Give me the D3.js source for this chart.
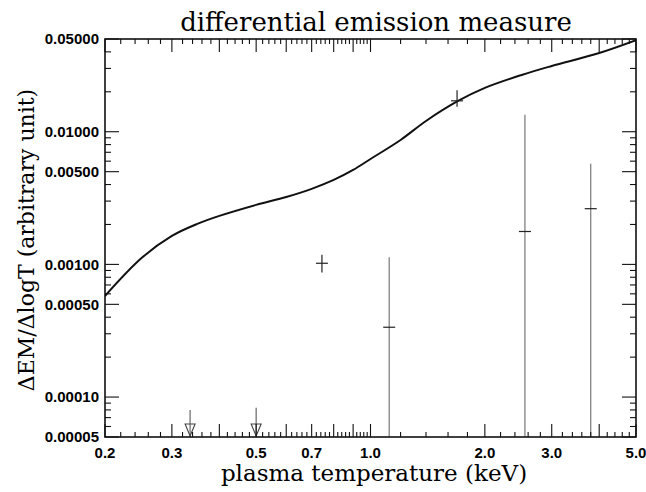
<!DOCTYPE html>
<html>
<head>
<meta charset="utf-8">
<script src="https://cdn.jsdelivr.net/npm/d3@7"></script>
<style>
  html, body { margin: 0; padding: 0; background: #fff; }
  svg { display: block; }
</style>
</head>
<body>
<svg id="chart" width="646" height="492"></svg>
<script>
// model curve (solid line)
const curveT   = [0.2, 0.25, 0.3, 0.35, 0.4, 0.5, 0.6, 0.7, 0.8, 0.9, 1.0, 1.2, 1.4, 1.7, 2.0, 2.5, 3.0, 4.0, 5.0];
const curveDem = [0.000578, 0.00112, 0.00164, 0.00202, 0.00232, 0.00281, 0.00322, 0.00371, 0.00433, 0.00515,
                  0.00623, 0.00867, 0.01205, 0.01705, 0.0214, 0.0268, 0.0313, 0.0392, 0.049];

// measured points with vertical error bars (null low = reaches the axis)
const ptT     = [0.745, 1.12, 1.69, 2.55, 3.8];
const ptDem   = [0.00102, 0.000336, 0.0171, 0.00177, 0.00263];
const ptErrLo = [0.00087, null, 0.0154, null, null];
const ptErrHi = [0.00118, 0.00113, 0.0205, 0.0134, 0.00574];

// upper limits (arrows)
const ulT   = [0.335, 0.5];
const ulDem = [0.00008, 0.000083];

// axis ticks
const xLabelTicks = [0.2, 0.3, 0.5, 0.7, 1.0, 2.0, 3.0, 5.0];
const xLabelText  = ['0.2', '0.3', '0.5', '0.7', '1.0', '2.0', '3.0', '5.0'];
const yLabelTicks = [0.05, 0.01, 0.005, 0.001, 0.0005, 0.0001, 0.00005];
const yLabelText  = ['0.05000', '0.01000', '0.00500', '0.00100', '0.00050', '0.00010', '0.00005'];

const margin = { top: 39, right: 10, bottom: 55, left: 105 };
const width = 646, height = 492;
const innerW = width - margin.left - margin.right;
const innerH = height - margin.top - margin.bottom;

const svg = d3.select('#chart');
const g = svg.append('g').attr('transform', `translate(${margin.left},${margin.top})`);

const x = d3.scaleLog().domain([0.2, 5.0]).range([0, innerW]);
const y = d3.scaleLog().domain([0.00005, 0.05]).range([innerH, 0]);

// tick sets: x minor every 0.02 below 1, every 0.2 above; medium at 0.1 / 1 steps
const xMed = [], xMin = [];
for (let i = 20; i <= 100; i += 2) {
    const v = i / 100;
    if (i % 10 === 0) xMed.push(v); else xMin.push(v);
}
for (let i = 12; i <= 50; i += 2) {
    const v = i / 10;
    if (i % 10 === 0) xMed.push(v); else xMin.push(v);
}
const yMaj = yLabelTicks.slice(), yMin = [];
[0.00001, 0.0001, 0.001, 0.01].forEach(dec => {
    for (let k = 2; k <= 9; k++) {
        const v = k * dec;
        if (v < 0.00005 || v > 0.05) continue;
        if (k === 5) continue;
        yMin.push(v);
    }
});

// clip for data
svg.append('defs').append('clipPath').attr('id', 'plotclip')
    .append('rect').attr('width', innerW).attr('height', innerH);

const plot = g.append('g').attr('clip-path', 'url(#plotclip)');

// model curve
const line = d3.line()
    .x((d, i) => x(curveT[i]))
    .y(d => y(d))
    .curve(d3.curveCatmullRom.alpha(0.5));
plot.append('path')
    .datum(curveDem)
    .attr('d', line)
    .attr('fill', 'none')
    .attr('stroke', '#111')
    .attr('stroke-width', 2);

// error bars
const pts = ptT.map((t, i) => ({ t, v: ptDem[i], lo: ptErrLo[i], hi: ptErrHi[i] }));
plot.selectAll('.err').data(pts).enter().append('line')
    .attr('x1', d => x(d.t)).attr('x2', d => x(d.t))
    .attr('y1', d => y(d.hi))
    .attr('y2', d => d.lo === null ? innerH : y(d.lo))
    .attr('stroke', d => d.lo === null ? '#777' : '#222')
    .attr('stroke-width', 1.2);
plot.selectAll('.cap').data(pts).enter().append('line')
    .attr('x1', d => x(d.t) - 6).attr('x2', d => x(d.t) + 6)
    .attr('y1', d => y(d.v)).attr('y2', d => y(d.v))
    .attr('stroke', '#222')
    .attr('stroke-width', 1.2);

// upper limits
const uls = ulT.map((t, i) => ({ t, v: ulDem[i] }));
const ulg = plot.selectAll('.ul').data(uls).enter().append('g');
ulg.append('line')
    .attr('x1', d => x(d.t)).attr('x2', d => x(d.t))
    .attr('y1', d => y(d.v)).attr('y2', innerH)
    .attr('stroke', '#666').attr('stroke-width', 1.2);
ulg.append('path')
    .attr('d', d => {
        const cx = x(d.t), b = innerH - 1;
        return `M${cx - 5},${b - 12}L${cx + 5},${b - 12}L${cx},${b}Z`;
    })
    .attr('fill', 'none').attr('stroke', '#444').attr('stroke-width', 1.1);

// ticks on all four sides
const ticks = g.append('g').attr('stroke', '#111').attr('stroke-width', 1.1);
function xTicks(vals, len) {
    vals.forEach(v => {
        ticks.append('line').attr('x1', x(v)).attr('x2', x(v)).attr('y1', innerH).attr('y2', innerH - len);
        ticks.append('line').attr('x1', x(v)).attr('x2', x(v)).attr('y1', 0).attr('y2', len);
    });
}
function yTicks(vals, len) {
    vals.forEach(v => {
        ticks.append('line').attr('x1', 0).attr('x2', len).attr('y1', y(v)).attr('y2', y(v));
        ticks.append('line').attr('x1', innerW).attr('x2', innerW - len).attr('y1', y(v)).attr('y2', y(v));
    });
}
xTicks(xMin, 5);
xTicks(xMed, 13);
yTicks(yMin, 6);
yTicks(yMaj, 14);

// frame
g.append('rect')
    .attr('width', innerW).attr('height', innerH)
    .attr('fill', 'none').attr('stroke', '#111').attr('stroke-width', 1.6);

// tick labels
g.selectAll('.xl').data(xLabelTicks).enter().append('text')
    .attr('x', d => x(d)).attr('y', innerH + 21)
    .attr('text-anchor', 'middle')
    .style('font-family', 'Liberation Sans, Arial, sans-serif')
    .style('font-weight', 'bold').style('font-size', '15px')
    .text((d, i) => xLabelText[i]);
g.selectAll('.yl').data(yLabelTicks).enter().append('text')
    .attr('x', -6).attr('y', d => y(d)).attr('dy', '0.35em')
    .attr('text-anchor', 'end')
    .style('font-family', 'Liberation Sans, Arial, sans-serif')
    .style('font-weight', 'bold').style('font-size', '15px')
    .text((d, i) => yLabelText[i]);

// titles
svg.append('text')
    .attr('x', 376).attr('y', 31)
    .attr('text-anchor', 'middle')
    .style('font-family', 'DejaVu Serif, serif').style('font-size', '26px')
    .text('differential emission measure');
svg.append('text')
    .attr('x', 374).attr('y', height - 11)
    .attr('text-anchor', 'middle')
    .style('font-family', 'DejaVu Serif, serif').style('font-size', '23px')
    .text('plasma temperature (keV)');
svg.append('text')
    .attr('transform', `translate(34,240) rotate(-90)`)
    .attr('text-anchor', 'middle')
    .style('font-family', 'DejaVu Serif, serif').style('font-size', '22px')
    .text('ΔEM/ΔlogT (arbitrary unit)');
</script>
</body>
</html>
